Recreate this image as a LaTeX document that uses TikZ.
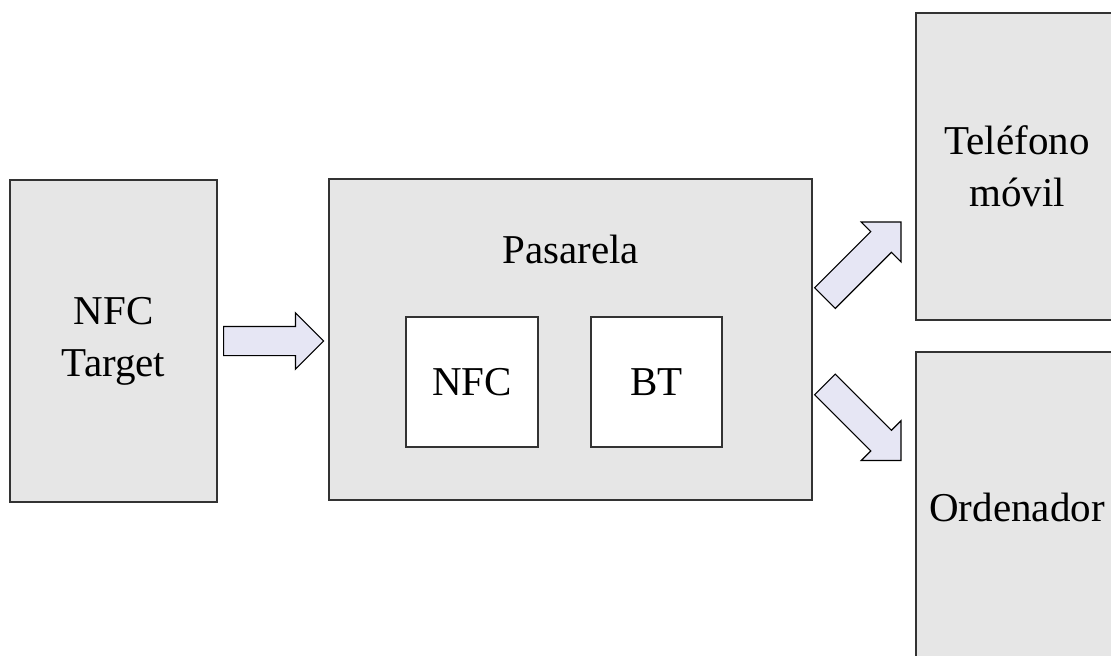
\documentclass[tikz,border=0pt]{standalone}
\usepackage{fontspec}
\setmainfont{Liberation Serif}
\usetikzlibrary{positioning,shapes.arrows}

\definecolor{boxgray}{HTML}{E6E6E6}
\definecolor{arrowfill}{HTML}{E6E6F4}
\definecolor{linegray}{HTML}{333333}

\begin{document}
\begin{tikzpicture}[x=0.5pt,y=-0.5pt,
  every node/.style={font=\fontsize{20.5}{26}\selectfont},
  block/.style={draw=linegray,line width=1pt,fill=boxgray,align=center,inner sep=0pt},
  inner/.style={block,fill=white,minimum width=65.75pt,minimum height=65pt},
  flow/.style={single arrow,draw=black,line width=0.6pt,fill=arrowfill,inner xsep=0pt,
    inner ysep=7pt,single arrow head extend=6.75pt}]
\useasboundingbox (0,0) rectangle (1111,655);
\clip (0,0) rectangle (1111,655);
\node[block,minimum width=103.5pt,minimum height=161pt] (target) at (113.5,341) {NFC\\Target};
\node[block,minimum width=241.5pt,minimum height=160.5pt] (gw) at (570.5,339.5) {};
\node (gwname) at ([yshift=-35.5pt]gw.north) {Pasarela};
\node[inner] (nfc) at (472,382) {NFC};
\node[inner] (bt) at (656.5,382) {BT};
\node[block,minimum width=101pt,minimum height=153.5pt] (phone) at (1017,166.5) {Teléfono\\móvil};
\node[block,minimum width=101pt,minimum height=155pt] (pc) at (1017,507) {Ordenador};
% block arrows between the boxes
\node[flow,minimum height=50pt,right=2.5pt of target] (in) {};
\node[flow,minimum height=53.75pt,rotate=45,anchor=tail] (up) at ([xshift=5.75pt,yshift=20.5pt]gw.east) {};
\node[flow,minimum height=53.75pt,rotate=-45,anchor=tail] (down) at ([xshift=5.75pt,yshift=-22.25pt]gw.east) {};
\end{tikzpicture}
\end{document}
